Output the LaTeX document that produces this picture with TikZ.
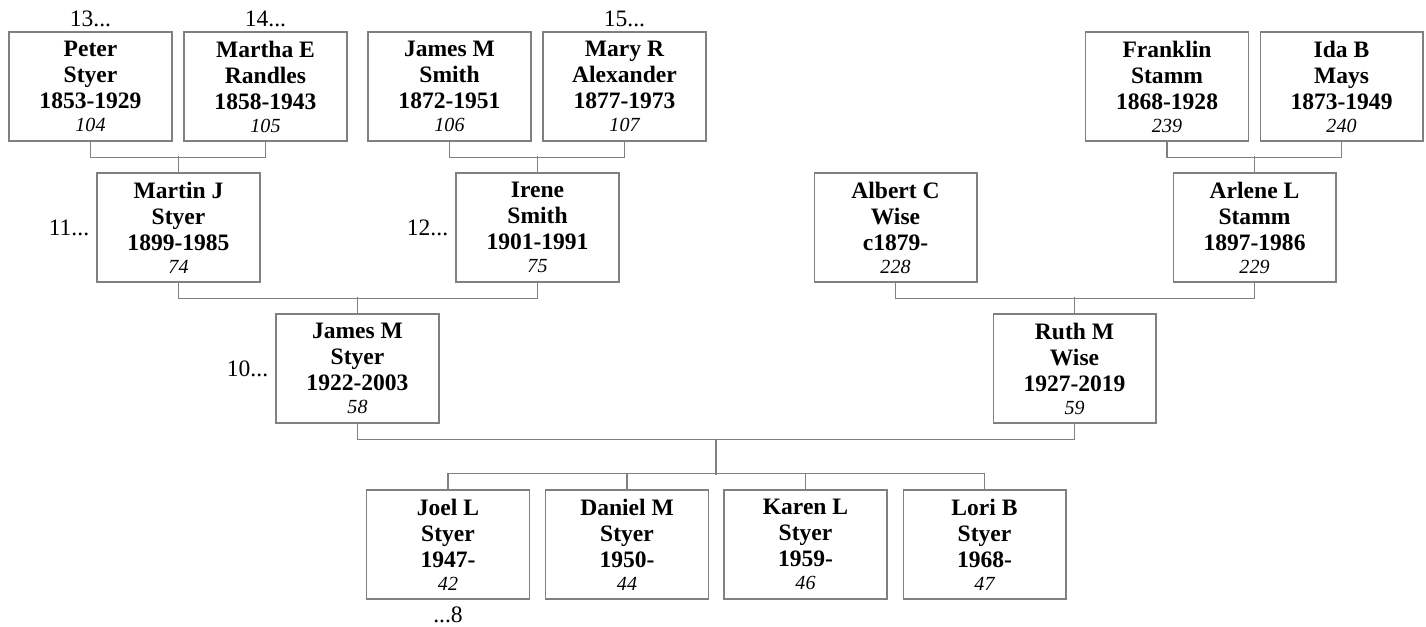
\documentclass[tikz,border=0pt]{standalone}
\usepackage{fontspec}
\setmainfont{Liberation Serif}
\usepackage{tikz}
\usetikzlibrary{calc}

\newcommand{\idno}[1]{{\mdseries\itshape\fontsize{11.4}{13}\selectfont #1}}

\begin{document}
\begin{tikzpicture}[x=0.02cm, y=-0.02cm,
  person/.style={draw=gray, line width=0.6pt, minimum width=3.26cm, minimum height=2.18cm,
    inner sep=0pt, align=center, font=\bfseries\fontsize{13.4}{14.8}\selectfont},
  link/.style={draw=gray, line width=0.6pt},
  more/.style={inner sep=0pt, font=\fontsize{13.4}{14.8}\selectfont}]

\useasboundingbox (0,0) rectangle (1426,626);

% Great-grandparents
\node[person] (peter) at (90.5,86.5) {Peter\\Styer\\1853-1929\\[-1.7pt]\idno{104}};
\node[person] (martha) at (265.5,86.5) {Martha E\\Randles\\1858-1943\\[-1.7pt]\idno{105}};
\node[person] (jsmith) at (449.5,86.5) {James M\\Smith\\1872-1951\\[-1.7pt]\idno{106}};
\node[person] (mary) at (624.5,86.5) {Mary R\\Alexander\\1877-1973\\[-1.7pt]\idno{107}};
\node[person] (franklin) at (1167,86.5) {Franklin\\Stamm\\1868-1928\\[-1.7pt]\idno{239}};
\node[person] (ida) at (1341.5,86.5) {Ida B\\Mays\\1873-1949\\[-1.7pt]\idno{240}};

% Grandparents
\node[person] (martin) at (178.5,227.5) {Martin J\\Styer\\1899-1985\\[-1.7pt]\idno{74}};
\node[person] (irene) at (537.5,227.5) {Irene\\Smith\\1901-1991\\[-1.7pt]\idno{75}};
\node[person] (albert) at (895.5,227.5) {Albert C\\Wise\\c1879-\\[-1.7pt]\idno{228}};
\node[person] (arlene) at (1254.5,227.5) {Arlene L\\Stamm\\1897-1986\\[-1.7pt]\idno{229}};

% Parents
\node[person] (james) at (357.5,368.5) {James M\\Styer\\1922-2003\\[-1.7pt]\idno{58}};
\node[person] (ruth) at (1074.5,368.5) {Ruth M\\Wise\\1927-2019\\[-1.7pt]\idno{59}};

% Children
\node[person] (joel) at (448,544.5) {Joel L\\Styer\\1947-\\[-1.7pt]\idno{42}};
\node[person] (daniel) at (627,544.5) {Daniel M\\Styer\\1950-\\[-1.7pt]\idno{44}};
\node[person] (karen) at (805.5,544.5) {Karen L\\Styer\\1959-\\[-1.7pt]\idno{46}};
\node[person] (lori) at (984.5,544.5) {Lori B\\Styer\\1968-\\[-1.7pt]\idno{47}};

% Continuation marks
\node[more, anchor=base] (g13) at ([yshift=0.1cm]peter.north) {13...};
\node[more, anchor=base] (g14) at ([yshift=0.1cm]martha.north) {14...};
\node[more, anchor=base] (g15) at ([yshift=0.1cm]mary.north) {15...};
\node[more, anchor=east] (g11) at ([xshift=-0.14cm]martin.west) {11...};
\node[more, anchor=east] (g12) at ([xshift=-0.14cm]irene.west) {12...};
\node[more, anchor=east] (g10) at ([xshift=-0.14cm]james.west) {10...};
\node[more, anchor=north] (g8) at ([yshift=-0.14cm]joel.south) {...8};

% Couples
\draw[link] (peter.south) -- ++(0,16) -| (martha.south);
\draw[link] (martin.north) -- ++(0,-16);
\draw[link] (jsmith.south) -- ++(0,16) -| (mary.south);
\draw[link] (irene.north) -- ++(0,-16);
\draw[link] (franklin.south) -- ++(0,16) -| (ida.south);
\draw[link] (arlene.north) -- ++(0,-16);
\draw[link] (martin.south) -- ++(0,16) -| (irene.south);
\draw[link] (james.north) -- ++(0,-16);
\draw[link] (albert.south) -- ++(0,16) -| (arlene.south);
\draw[link] (ruth.north) -- ++(0,-16);
\draw[link] (james.south) -- ++(0,16) -| (ruth.south);

% Children
\coordinate (fam) at ($(james.south)!0.5!(ruth.south)+(0,16)$);
\draw[link] (fam) -- ++(0,35);
\draw[link] (joel.north) -- ++(0,-16) -| (lori.north);
\draw[link] (daniel.north) -- ++(0,-16);
\draw[link] (karen.north) -- ++(0,-16);

\end{tikzpicture}
\end{document}
